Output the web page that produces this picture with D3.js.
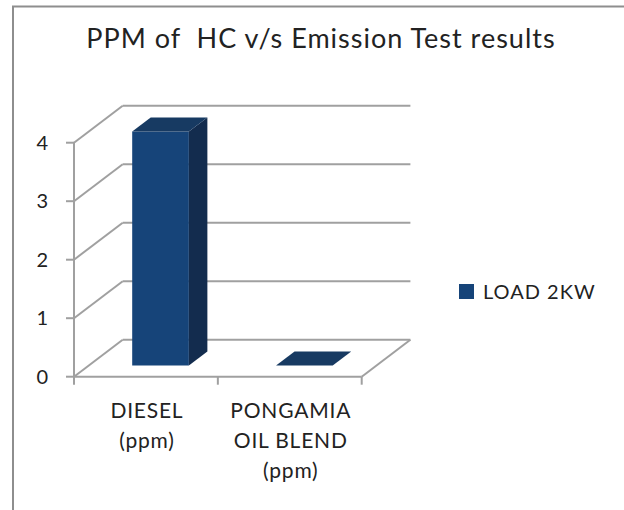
<!DOCTYPE html>
<html>
<head>
<meta charset="utf-8">
<script src="https://cdn.jsdelivr.net/npm/d3@7"></script>
<style>
  body { margin: 0; background: #fff; }
  svg text { font-family: Lato, "Noto Sans", sans-serif; fill: #222; }
</style>
</head>
<body>
<svg id="chart" width="624" height="510"></svg>
<script>
// data
const categories = [["DIESEL", "(ppm)"], ["PONGAMIA", "OIL BLEND", "(ppm)"]];
const loadValues = [4, 0];
const yTicks = [0, 1, 2, 3, 4];
const seriesName = "LOAD 2KW";
const chartTitle = "PPM of  HC v/s Emission Test results";

const svg = d3.select("#chart");

// 3d projection - depth goes up and right
const depthX = 48.7, depthY = -37;
const proj = (x, y, z) => [x + z * depthX, y + z * depthY];

const x = d3.scaleBand()
  .domain(d3.range(categories.length))
  .range([74, 361.7])
  .paddingInner(0)
  .paddingOuter(0);
const y = d3.scaleLinear().domain([0, 4]).range([376.7, 142.7]);

const gridCol = "#a0a0a0";

// outer frame (only left/top visible)
svg.append("path")
  .attr("d", "M13,510 L13,6.5 L624,6.5")
  .attr("fill", "none")
  .attr("stroke", "#8e8e8e")
  .attr("stroke-width", 2);

// title
svg.append("text")
  .attr("x", 321)
  .attr("y", 48)
  .attr("text-anchor", "middle")
  .attr("font-size", 27)
  .attr("letter-spacing", 1)
  .style("white-space", "pre")
  .text(chartTitle);

const grid = svg.append("g")
  .attr("stroke", gridCol)
  .attr("stroke-width", 2)
  .attr("fill", "none");

const x0 = x.range()[0], x1 = x.range()[1];

// back wall gridlines + left wall diagonals
yTicks.forEach(t => {
  const a = proj(x0, y(t), 1), b = proj(x1, y(t), 1);
  grid.append("line").attr("x1", a[0]).attr("y1", a[1]).attr("x2", b[0]).attr("y2", b[1]);
  grid.append("line").attr("x1", x0).attr("y1", y(t)).attr("x2", a[0]).attr("y2", a[1]);
  // tick mark
  grid.append("line").attr("x1", x0 - 8).attr("y1", y(t)).attr("x2", x0).attr("y2", y(t));
});

// floor front edge + right edge
const fr = proj(x1, y(0), 1);
grid.append("line").attr("x1", x0).attr("y1", y(0)).attr("x2", x1).attr("y2", y(0));
grid.append("line").attr("x1", x1).attr("y1", y(0)).attr("x2", fr[0]).attr("y2", fr[1]);
// vertical axis
grid.append("line").attr("x1", x0).attr("y1", y(4)).attr("x2", x0).attr("y2", y(0));
// x ticks
d3.range(categories.length + 1).forEach(i => {
  const xx = x0 + i * x.bandwidth();
  grid.append("line").attr("x1", xx).attr("y1", y(0)).attr("x2", xx).attr("y2", y(0) + 8);
});

// y labels
svg.append("g").selectAll("text")
  .data(yTicks)
  .join("text")
  .attr("x", 48)
  .attr("y", d => y(d) + 7)
  .attr("text-anchor", "end")
  .attr("font-size", 20)
  .text(d => d);

// bars
const zFront = 0.3, zBack = 0.68, barFrac = 0.394;
const frontCol = "#164479", sideCol = "#132c4e", topCol = "#173a62";
const poly = pts => "M" + pts.map(p => p.join(",")).join("L") + "Z";

const bars = svg.append("g");
loadValues.forEach((v, i) => {
  const c = x(i) + x.bandwidth() / 2;
  const bw = x.bandwidth() * barFrac;
  const l = c - bw / 2, r = c + bw / 2;
  const yb = y(0), yt = y(v);
  if (v > 0) {
    bars.append("path")
      .attr("d", poly([proj(l, yb, zFront), proj(r, yb, zFront), proj(r, yt, zFront), proj(l, yt, zFront)]))
      .attr("fill", frontCol);
    bars.append("path")
      .attr("d", poly([proj(r, yb, zFront), proj(r, yb, zBack), proj(r, yt, zBack), proj(r, yt, zFront)]))
      .attr("fill", sideCol);
  }
  bars.append("path")
    .attr("d", poly([proj(l, yt, zFront), proj(r, yt, zFront), proj(r, yt, zBack), proj(l, yt, zBack)]))
    .attr("fill", topCol);
});

// category labels
categories.forEach((lines, i) => {
  const t = svg.append("text")
    .attr("text-anchor", "middle")
    .attr("font-size", 21)
    .attr("letter-spacing", 0.8);
  lines.forEach((ln, j) => {
    t.append("tspan")
      .attr("x", x(i) + x.bandwidth() / 2 + 1)
      .attr("y", 418 + j * 30)
      .text(ln);
  });
});

// legend
const lg = svg.append("g").attr("transform", "translate(459,284)");
lg.append("rect").attr("width", 15).attr("height", 15).attr("fill", frontCol);
lg.append("text").attr("x", 24).attr("y", 14.5).attr("font-size", 20)
  .attr("letter-spacing", 1).text(seriesName);
</script>
</body>
</html>
